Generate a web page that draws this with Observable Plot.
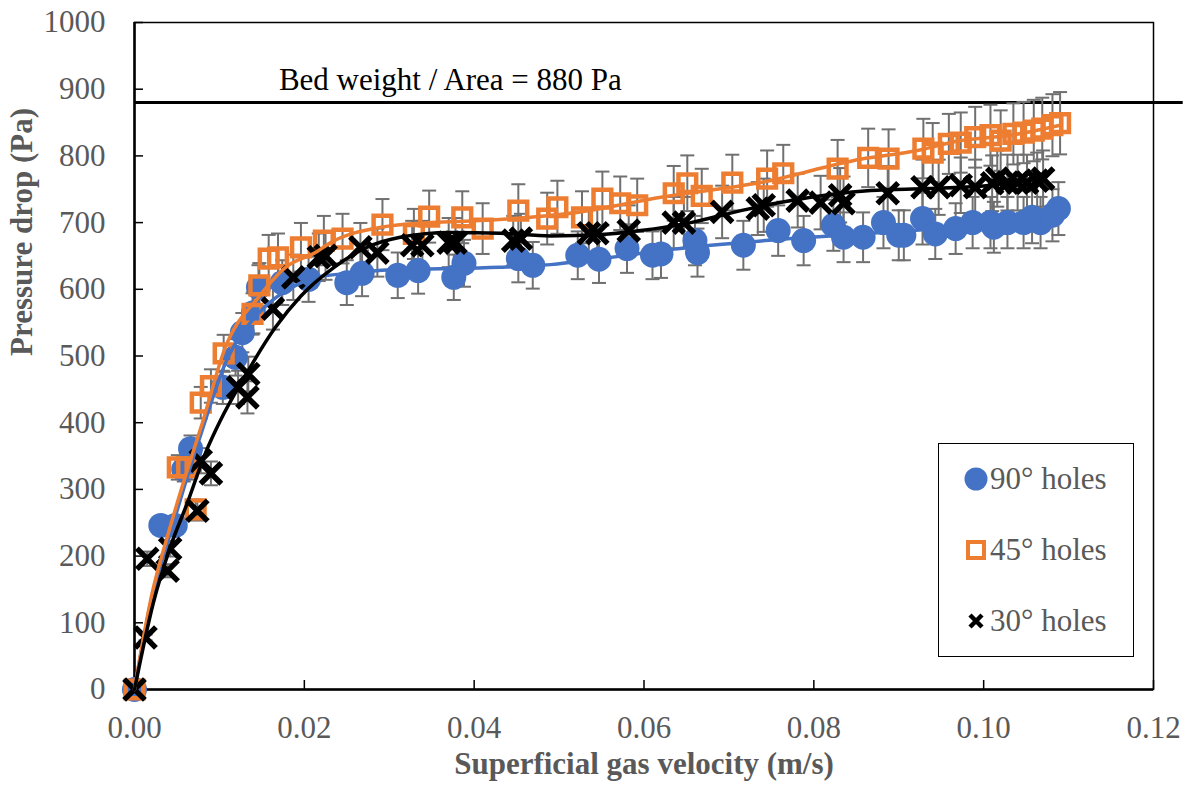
<!DOCTYPE html>
<html><head><meta charset="utf-8">
<script src="https://cdn.jsdelivr.net/npm/d3@7"></script>
<script src="https://cdn.jsdelivr.net/npm/@observablehq/plot@0.6"></script>
<style>
html,body{margin:0;padding:0;background:#fff;overflow:hidden}
#wrap{position:relative;width:1189px;height:793px}
#legend{position:absolute;left:938px;top:443px;width:196px;height:214px;border:1.5px solid #000;box-sizing:border-box;background:#fff;font-family:"Liberation Serif","Times New Roman",serif;font-size:31px;color:#595959}
.item{position:absolute;left:0;height:40px;width:190px}
.item svg{position:absolute;left:22px;top:0}
.item span{position:absolute;left:51px;top:0;line-height:40px;white-space:nowrap}
</style></head>
<body><div id="wrap"><div id="legend"></div></div>
<script>
// ---- data ----
const seriesNames = ["90° holes", "45° holes", "30° holes"];
const xTicks = [0, 0.02, 0.04, 0.06, 0.08, 0.10, 0.12];
const yTicks = [0, 100, 200, 300, 400, 500, 600, 700, 800, 900, 1000];
const bedWeight = 880;
const bedLabel = "Bed weight / Area = 880 Pa";
const errFrac = 0.055;

const v90 = [0,0.0031,0.0048,0.0058,0.0066,0.0104,0.0119,0.0127,0.0140,0.0146,0.0174,0.0205,0.025,0.0268,0.031,0.0334,0.0376,0.0388,0.0452,0.0469,0.0522,0.0547,0.058,0.061,0.062,0.066,0.0663,0.0717,0.0758,0.0788,0.0823,0.0835,0.0858,0.0882,0.090,0.0906,0.0928,0.0943,0.0967,0.0987,0.1008,0.1012,0.1028,0.1047,0.1057,0.1067,0.1081,0.1088];
const p90 = [0,246,246,330,361,453,498,535,565,603,610,615,610,624,621,628,618,639,646,636,651,645,661,651,653,673,655,666,688,673,696,678,678,700,681,681,706,683,691,700,700,693,700,700,708,700,711,721];

const v45 = [0,0.0051,0.0062,0.0072,0.0078,0.0090,0.0105,0.0139,0.0147,0.0158,0.0169,0.0196,0.0223,0.0245,0.0292,0.0329,0.0347,0.0386,0.0410,0.0452,0.0486,0.0498,0.0527,0.0551,0.0572,0.0592,0.0635,0.0651,0.0668,0.0704,0.0745,0.0764,0.0828,0.0864,0.0888,0.0929,0.0940,0.0959,0.0973,0.0990,0.1008,0.1020,0.1035,0.1047,0.1059,0.1069,0.1081,0.1090];
const p45 = [0,333,333,270,430,455,504,563,606,646,648,663,673,676,697,683,709,708,691,718,706,723,708,736,729,726,744,759,740,760,766,774,781,797,796,811,805,818,820,828,831,823,833,835,838,841,846,849];

const v30 = [0,0.0013,0.0015,0.0039,0.0042,0.0074,0.0078,0.0090,0.0122,0.0133,0.0134,0.0163,0.0187,0.0217,0.0225,0.0266,0.0286,0.0327,0.0339,0.0370,0.0378,0.0446,0.0455,0.0535,0.0545,0.0582,0.0635,0.0647,0.0692,0.0734,0.0741,0.0781,0.0808,0.0831,0.0835,0.0887,0.0928,0.0947,0.0973,0.0990,0.1010,0.1016,0.1028,0.1040,0.1051,0.1063,0.1070];
const p30 = [0,78,196,178,211,268,343,324,453,438,473,571,618,648,650,663,655,666,666,670,670,673,676,684,684,688,700,700,716,721,726,733,730,741,729,744,753,753,756,753,759,766,760,760,760,763,766];

// smooth trend curves
const tv90 = [0,0.002,0.004,0.006,0.008,0.0107,0.0146,0.0186,0.0213,0.0254,0.0313,0.0372,0.043,0.049,0.0549,0.0655,0.0773,0.0867,0.095,0.100,0.105,0.109];
const tp90 = [0,135,225,310,390,489,564,603,618,624,630,631,633,637,646,663,676,684,692,699,706,718];
const tv45 = [0,0.002,0.004,0.006,0.008,0.0107,0.0146,0.0178,0.0213,0.0231,0.029,0.035,0.0407,0.0466,0.0525,0.062,0.0737,0.0855,0.0922,0.0973,0.1032,0.109];
const tp45 = [0,140,235,320,400,513,588,633,655,670,693,700,703,708,716,738,760,795,808,823,831,846];
const tv30 = [0,0.0022,0.0042,0.0062,0.0084,0.0101,0.0127,0.0166,0.0196,0.0235,0.0274,0.0313,0.0372,0.0431,0.049,0.0549,0.0596,0.0655,0.0714,0.0773,0.0867,0.0934,0.100,0.107];
const tp30 = [0,129,213,279,356,403,463,543,590,633,663,678,685,684,680,682,688,700,718,733,748,751,755,766];

// ---- styling ----
const colors = ["#4472C4", "#ED7D31", "#000000"];
const errColor = "#707070";
const font = "'Liberation Serif','Times New Roman',serif";

const rows = (vs, ps) => vs.map((v, i) => ({v, p: ps[i]}));
const d90 = rows(v90, p90), d45 = rows(v45, p45), d30 = rows(v30, p30);
const all = [...d90, ...d45, ...d30];
const t90 = rows(tv90, tp90), t45 = rows(tv45, tp45), t30 = rows(tv30, tp30);

const capSymbol = {draw(ctx) { ctx.moveTo(-7, 0); ctx.lineTo(7, 0); }};

const chart = Plot.plot({
  width: 1189, height: 793,
  marginLeft: 134, marginRight: 36, marginTop: 22, marginBottom: 104,
  style: {fontFamily: font, fontSize: "31px", color: "#595959", background: "#fff"},
  x: {domain: [0, 0.12]},
  y: {domain: [0, 1000]},
  marks: [
    Plot.frame({stroke: "#000", strokeWidth: 1.5}),
    Plot.ruleX([0], {stroke: "#000", strokeWidth: 2.5}),
    Plot.ruleY([0], {stroke: "#000", strokeWidth: 2.5}),
    Plot.tickX(xTicks, {x: d => d, stroke: "#000", strokeWidth: 1.5, insetTop: 658}),
    Plot.tickY(yTicks, {y: d => d, stroke: "#000", strokeWidth: 1.5, insetRight: 1010}),
    Plot.axisX(xTicks, {tickSize: 0, tickPadding: 26, tickFormat: d => d.toFixed(2), label: null, fontSize: 31}),
    Plot.axisY(yTicks, {tickSize: 0, tickPadding: 29, tickFormat: d => String(d), label: null, fontSize: 31}),
    Plot.text(["Pressure drop (Pa)"], {frameAnchor: "left", dx: -112, rotate: -90, fontWeight: "bold", fontSize: 31, fill: "#595959"}),
    Plot.text(["Superficial gas velocity (m/s)"], {frameAnchor: "bottom", dy: 84, fontWeight: "bold", fontSize: 31, fill: "#595959"}),
    // bed weight line
    Plot.ruleY([bedWeight], {x1: 0, x2: 0.1235, stroke: "#000", strokeWidth: 3}),
    Plot.text([bedLabel], {x: 0.0372, y: bedWeight, dy: -22, fill: "#000", fontSize: 31}),
    // error bars
    Plot.ruleX(all, {x: "v", y1: d => d.p * (1 - errFrac), y2: d => d.p * (1 + errFrac), stroke: errColor, strokeWidth: 2}),
    Plot.dot(all, {x: "v", y: d => d.p * (1 + errFrac), symbol: capSymbol, stroke: errColor, strokeWidth: 2, fill: "none"}),
    Plot.dot(all, {x: "v", y: d => d.p * (1 - errFrac), symbol: capSymbol, stroke: errColor, strokeWidth: 2, fill: "none"}),
    // markers
    Plot.dot(d90, {x: "v", y: "p", r: 12.5, fill: colors[0], stroke: "none"}),
    Plot.dot(d45, {x: "v", y: "p", symbol: "square", r: 10, fill: "none", stroke: colors[1], strokeWidth: 4.5}),
    Plot.dot(d30, {x: "v", y: "p", symbol: "times", r: 9.5, stroke: colors[2], strokeWidth: 5.5}),
    // trend curves
    Plot.line(t90, {x: "v", y: "p", stroke: colors[0], strokeWidth: 3.5, curve: "monotone-x"}),
    Plot.line(t45, {x: "v", y: "p", stroke: colors[1], strokeWidth: 3.5, curve: "monotone-x"}),
    Plot.line(t30, {x: "v", y: "p", stroke: colors[2], strokeWidth: 3.5, curve: "monotone-x"})
  ]
});
const wrap = document.getElementById("wrap");
wrap.insertBefore(chart, wrap.firstChild);

// legend
const legend = document.getElementById("legend");
const icons = [
  `<circle cx="15" cy="20" r="11.5" fill="${colors[0]}"/>`,
  `<rect x="7" y="12" width="16" height="16" fill="#fff" stroke="${colors[1]}" stroke-width="4"/>`,
  `<path d="M9,14L21,26M21,14L9,26" stroke="${colors[2]}" stroke-width="4.5"/>`
];
const rowCenters = [35, 106, 177];
seriesNames.forEach((name, i) => {
  const div = document.createElement("div");
  div.className = "item";
  div.style.top = (rowCenters[i] - 20) + "px";
  div.innerHTML = `<svg width="30" height="40">${icons[i]}</svg><span>${name}</span>`;
  legend.appendChild(div);
});
</script>
</body></html>
